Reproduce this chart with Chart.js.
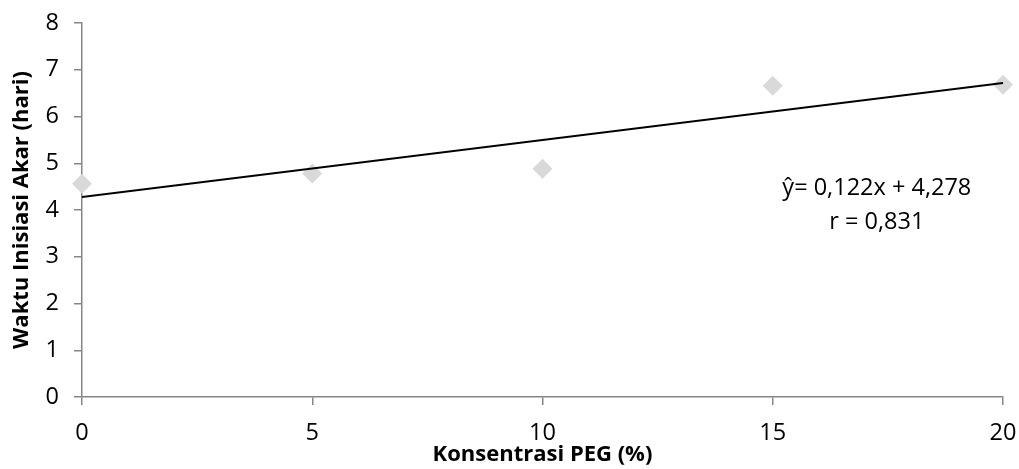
<!DOCTYPE html>
<html>
<head>
<meta charset="utf-8">
<script src="https://cdn.jsdelivr.net/npm/chart.js@4/dist/chart.umd.min.js"></script>
<style>
  html, body { margin: 0; padding: 0; background: #fff; }
  #wrap { width: 1019px; height: 469px; }
</style>
</head>
<body>
<div id="wrap"><canvas id="pegChart" width="1019" height="469"></canvas></div>
<script>
// data
const pegLevels = [0, 5, 10, 15, 20];
const rootDays = [4.56, 4.78, 4.88, 6.66, 6.68];
const slope = 0.122;
const intercept = 4.278;
const eqText = 'ŷ= 0,122x + 4,278';
const rText = 'r = 0,831';

const fontName = '"Open Sans", "Noto Sans", sans-serif';
const axisGrey = '#868686';

const points = pegLevels.map((x, i) => ({ x: x, y: rootDays[i] }));
const trend = [pegLevels[0], pegLevels[pegLevels.length - 1]].map(x => ({ x: x, y: intercept + slope * x }));

const equationLabel = {
  id: 'equationLabel',
  afterDraw(chart) {
    const { ctx, scales } = chart;
    const cx = scales.x.getPixelForValue(17.26);
    ctx.save();
    ctx.fillStyle = '#000';
    ctx.font = '23.5px ' + fontName;
    ctx.textAlign = 'center';
    ctx.textBaseline = 'middle';
    ctx.fillText(eqText, cx, scales.y.getPixelForValue(4.47));
    ctx.fillText(rText, cx, scales.y.getPixelForValue(3.74));
    ctx.restore();
  }
};

const ctx = document.getElementById('pegChart').getContext('2d');
new Chart(ctx, {
  type: 'scatter',
  data: {
    datasets: [
      {
        label: 'Trend',
        data: trend,
        type: 'line',
        borderColor: '#000',
        borderWidth: 2,
        pointRadius: 0,
        fill: false
      },
      {
        label: 'Waktu inisiasi akar',
        data: points,
        pointStyle: 'rectRot',
        pointRadius: 10,
        pointHoverRadius: 10,
        backgroundColor: '#d9d9d9',
        borderColor: '#d9d9d9',
        borderWidth: 0,
        clip: false
      }
    ]
  },
  options: {
    responsive: false,
    animation: false,
    layout: { padding: { top: 23, right: 16, bottom: 0, left: 0 } },
    plugins: {
      legend: { display: false },
      tooltip: { enabled: false }
    },
    scales: {
      x: {
        type: 'linear',
        min: 0,
        max: 20,
        ticks: {
          stepSize: 5,
          color: '#000',
          padding: 14,
          font: { family: fontName, size: 23.5 }
        },
        grid: { drawOnChartArea: false, color: axisGrey, tickLength: 8, lineWidth: 1.5 },
        border: { color: axisGrey, width: 1.5 },
        title: {
          display: true,
          text: 'Konsentrasi PEG (%)',
          color: '#000',
          font: { family: fontName, size: 22, weight: 'bold' },
          padding: { top: 0, bottom: 1 }
        },
        afterFit(scale) {
          scale.height = 72;
          scale.paddingLeft = 0;
          scale.paddingRight = 0;
        }
      },
      y: {
        type: 'linear',
        min: 0,
        max: 8,
        ticks: {
          stepSize: 1,
          color: '#000',
          padding: 15,
          font: { family: fontName, size: 23.5 }
        },
        grid: { drawOnChartArea: false, color: axisGrey, tickLength: 8, lineWidth: 1.5 },
        border: { color: axisGrey, width: 1.5 },
        title: {
          display: true,
          text: 'Waktu Inisiasi Akar (hari)',
          color: '#000',
          font: { family: fontName, size: 22, weight: 'bold' },
          padding: { top: 9, bottom: 0 }
        },
        afterFit(scale) {
          scale.width = 82;
          scale.paddingTop = 0;
          scale.paddingBottom = 0;
        }
      }
    }
  },
  plugins: [equationLabel]
});
</script>
</body>
</html>
